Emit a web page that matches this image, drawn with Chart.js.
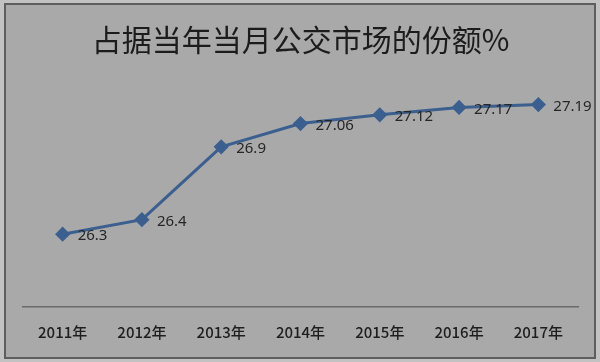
<!DOCTYPE html>
<html>
<head>
<meta charset="utf-8">
<script src="https://cdn.jsdelivr.net/npm/chart.js@4"></script>
<style>
  html, body { margin: 0; padding: 0; background: #c2c2c2; width: 600px; height: 362px; overflow: hidden; }
  #frame {
    position: absolute; left: 4px; top: 3px; width: 592px; height: 356px;
    box-sizing: border-box; border: 2px solid #5e5e5e; background: #a9a9a9;
  }
  #frame canvas { display: block; }
</style>
</head>
<body>
<div id="frame"><canvas id="c" width="588" height="352"></canvas></div>
<script>
// share of city-bus market, per year
const years = ["2011年", "2012年", "2013年", "2014年", "2015年", "2016年", "2017年"];
const share = [26.3, 26.4, 26.9, 27.06, 27.12, 27.17, 27.19];
const shareLabels = ["26.3", "26.4", "26.9", "27.06", "27.12", "27.17", "27.19"];

const lineColor = "#3b5f8e";

// value labels to the right of each point
const valueLabels = {
    id: "valueLabels",
    afterDatasetsDraw(chart) {
        const ctx = chart.ctx;
        const meta = chart.getDatasetMeta(0);
        ctx.save();
        ctx.font = "15px 'Noto Sans', sans-serif";
        ctx.fillStyle = "#262626";
        ctx.textAlign = "left";
        ctx.textBaseline = "middle";
        meta.data.forEach((pt, i) => {
            ctx.fillText(shareLabels[i], pt.x + 15, pt.y + 2);
        });
        ctx.restore();
    },
};

new Chart(document.getElementById("c"), {
    type: "line",
    data: {
        labels: years,
        datasets: [{
            data: share,
            borderColor: lineColor,
            backgroundColor: lineColor,
            borderWidth: 3,
            pointStyle: "rectRot",
            pointRadius: 5.5,
            pointHoverRadius: 5.5,
            tension: 0,
        }],
    },
    options: {
        responsive: false,
        animation: false,
        layout: { padding: { left: 17, right: 16, top: 0, bottom: 0 } },
        plugins: {
            legend: { display: false },
            tooltip: { enabled: false },
            title: {
                display: true,
                text: "占据当年当月公交市场的份额%",
                color: "#1c1c1c",
                font: { family: "'Noto Sans CJK SC', sans-serif", size: 30, weight: "normal" },
                padding: { top: 17, bottom: 16 },
            },
        },
        scales: {
            x: {
                offset: true,
                grid: { display: false, drawTicks: false },
                border: { display: true, color: "#6a6a6a", width: 1.5 },
                ticks: {
                    color: "#1e1e1e",
                    padding: 16,
                    font: { family: "'Noto Sans CJK SC', sans-serif", size: 15, weight: 500 },
                },
            },
            y: {
                display: false,
                min: 25.8,
                max: 27.4,
            },
        },
    },
    plugins: [valueLabels],
});
</script>
</body>
</html>
